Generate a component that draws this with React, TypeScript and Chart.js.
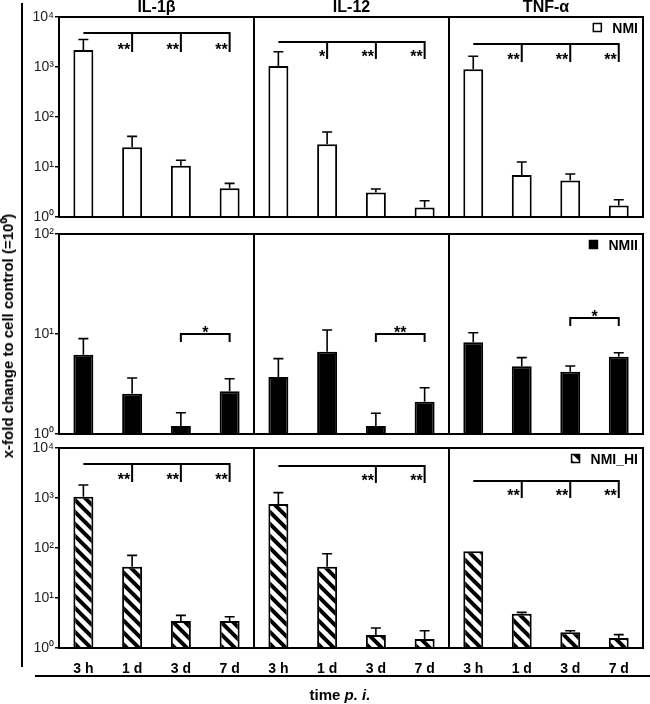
import React, { useEffect, useRef } from 'react';
import { Chart, registerables } from 'chart.js';

Chart.register(...registerables);

const FONT = "'Liberation Sans', Arial, Helvetica, sans-serif";

const TIME_POINTS = ['3 h', '1 d', '3 d', '7 d'];
const CYTOKINES = ['IL-1β', 'IL-12', 'TNF-α'];
const GROUPS = ['NMI', 'NMII', 'NMI_HI'];

// NMI (mean, SD)
const NMI_IL1B = [2190, 24.7, 10.6, 3.75];
const NMI_IL1B_SD = [1370, 16.3, 3.0, 0.95];
const NMI_IL12 = [1050, 28.4, 3.1, 1.54];
const NMI_IL12_SD = [975, 21.6, 0.53, 0.58];
const NMI_TNF = [898, 6.9, 5.4, 1.69];
const NMI_TNF_SD = [737, 5.7, 1.84, 0.53];
// NMII
const NMII_IL1B = [6.2, 2.53, 1.2, 2.67];
const NMII_IL1B_SD = [2.78, 1.1, 0.43, 0.9];
const NMII_IL12 = [3.72, 6.65, 1.2, 2.1];
const NMII_IL12_SD = [1.95, 4.31, 0.41, 0.8];
const NMII_TNF = [8.26, 4.75, 4.2, 5.93];
const NMII_TNF_SD = [2.04, 1.05, 0.59, 0.57];
// NMI_HI
const NMIHI_IL1B = [1063, 42.4, 3.47, 3.47];
const NMIHI_IL1B_SD = [757, 28.9, 1.03, 0.76];
const NMIHI_IL12 = [759, 42.4, 1.82, 1.51];
const NMIHI_IL12_SD = [519, 34.6, 0.69, 0.71];
const NMIHI_TNF = [85.8, 4.86, 2.06, 1.58];
const NMIHI_TNF_SD = [0, 0.31, 0.16, 0.27];

const TICKS_4DEC = [1, 10, 100, 1000, 10000];
const TICKS_2DEC = [1, 10, 100];
const SUPERSCRIPT = ['⁰', '¹', '²', '³', '⁴'];

// significance: fan = 3 h vs 1 d / 3 d / 7 d ; pair = 3 d vs 7 d
const SIG_NMI = [['**', '**', '**'], ['*', '**', '**'], ['**', '**', '**']];
const SIG_NMII = ['*', '**', '*'];
const SIG_NMIHI = [['**', '**', '**'], ['', '**', '**'], ['**', '**', '**']];

const VALUES = [
  [NMI_IL1B, NMI_IL12, NMI_TNF],
  [NMII_IL1B, NMII_IL12, NMII_TNF],
  [NMIHI_IL1B, NMIHI_IL12, NMIHI_TNF],
];
const ERRORS = [
  [NMI_IL1B_SD, NMI_IL12_SD, NMI_TNF_SD],
  [NMII_IL1B_SD, NMII_IL12_SD, NMII_TNF_SD],
  [NMIHI_IL1B_SD, NMIHI_IL12_SD, NMIHI_TNF_SD],
];

// layout (pixels)
const COL_EDGES = [59, 254, 449, 643];
const ROW_EDGES = [
  [17, 217],
  [234, 434],
  [448, 648],
];
const BRACKET_TOP = [
  [16, 25, 27],
  [100, 100, 84],
  [16, 18, 33],
];
const BRACKET_DROP = [
  [19, 17, 18],
  [8, 8, 8],
  [18, 17, 17],
];
const PAD = 10;
const Y_AXIS_W = 36;
const X_AXIS_H = 26;
const TITLE_H = 18;

function makeHatch(): CanvasPattern | string {
  const c = document.createElement('canvas');
  const n = 12;
  c.width = n;
  c.height = n;
  const g = c.getContext('2d');
  if (!g) return '#888';
  g.fillStyle = '#fff';
  g.fillRect(0, 0, n, n);
  g.strokeStyle = '#000';
  g.lineWidth = 4;
  g.beginPath();
  g.moveTo(-3, -3);
  g.lineTo(n + 3, n + 3);
  g.moveTo(-3, n - 3);
  g.lineTo(3, n + 3);
  g.moveTo(n - 3, -3);
  g.lineTo(n + 3, 3);
  g.stroke();
  return g.createPattern(c, 'repeat') || '#888';
}

function Panel({ row, col }: { row: number; col: number }) {
  const ref = useRef<HTMLCanvasElement>(null);
  const yW = col === 0 ? Y_AXIS_W : 0;
  const xH = row === 2 ? X_AXIS_H : 0;
  const tH = row === 0 ? TITLE_H : 0;
  const px0 = COL_EDGES[col];
  const px1 = COL_EDGES[col + 1];
  const py0 = ROW_EDGES[row][0];
  const py1 = ROW_EDGES[row][1];
  const left = px0 - yW - PAD;
  const top = py0 - tH - PAD;
  const width = px1 - px0 + yW + 2 * PAD;
  const height = py1 - py0 + tH + xH + 2 * PAD;

  useEffect(() => {
    const canvas = ref.current;
    if (!canvas) return;
    const values = VALUES[row][col];
    const errs = ERRORS[row][col];
    const hatch = makeHatch();
    const fill = row === 0 ? '#ffffff' : row === 1 ? '#000000' : hatch;
    const yTicks = row === 1 ? TICKS_2DEC : TICKS_4DEC;

    const decor = {
      id: 'decor',
      afterDatasetsDraw(chart: any) {
        const { ctx, chartArea: a, scales } = chart;
        const ys = scales.y;
        const xs = scales.x;
        const meta = chart.getDatasetMeta(0);
        ctx.save();
        // error bars
        ctx.strokeStyle = '#000';
        ctx.lineWidth = 1.6;
        meta.data.forEach((bar: any, i: number) => {
          const s = errs[i];
          if (!s) return;
          const yt = ys.getPixelForValue(values[i] + s);
          ctx.beginPath();
          ctx.moveTo(bar.x, bar.y);
          ctx.lineTo(bar.x, yt);
          ctx.moveTo(bar.x - 5, yt);
          ctx.lineTo(bar.x + 5, yt);
          ctx.stroke();
        });
        // frame
        ctx.lineWidth = 2;
        ctx.strokeRect(a.left, a.top, a.right - a.left, a.bottom - a.top);
        // significance brackets
        const yl = a.top + BRACKET_TOP[row][col];
        const drop = BRACKET_DROP[row][col];
        ctx.fillStyle = '#000';
        ctx.font = `bold 16px ${FONT}`;
        ctx.textBaseline = 'alphabetic';
        if (row === 1) {
          const x1 = xs.getPixelForValue(2);
          const x2 = xs.getPixelForValue(3);
          ctx.beginPath();
          ctx.moveTo(x1, yl + drop);
          ctx.lineTo(x1, yl);
          ctx.lineTo(x2, yl);
          ctx.lineTo(x2, yl + drop);
          ctx.stroke();
          ctx.textAlign = 'center';
          ctx.fillText(SIG_NMII[col], (x1 + x2) / 2, yl + 4);
        } else {
          const labels = row === 0 ? SIG_NMI[col] : SIG_NMIHI[col];
          ctx.beginPath();
          ctx.moveTo(xs.getPixelForValue(0), yl);
          ctx.lineTo(xs.getPixelForValue(3) + 1, yl);
          labels.forEach((lab: string, k: number) => {
            if (!lab) return;
            const xi = xs.getPixelForValue(k + 1);
            ctx.moveTo(xi, yl);
            ctx.lineTo(xi, yl + drop);
          });
          ctx.stroke();
          ctx.textAlign = 'right';
          labels.forEach((lab: string, k: number) => {
            if (!lab) return;
            const xi = xs.getPixelForValue(k + 1);
            ctx.fillText(lab, xi - 2, yl + drop + 3);
          });
        }
        // legend
        if (col === 2) {
          const text = chart.data.datasets[0].label;
          ctx.font = `bold 14px ${FONT}`;
          const tw = ctx.measureText(text).width;
          const tx = a.right - 5 - tw;
          const cy = a.top + 11;
          const bs = 8;
          const bx = tx - 11 - bs;
          const by = cy - bs / 2 - 0.5;
          ctx.fillStyle = chart.data.datasets[0].backgroundColor;
          ctx.fillRect(bx, by, bs, bs);
          ctx.lineWidth = 1.5;
          ctx.strokeStyle = '#000';
          ctx.strokeRect(bx, by, bs, bs);
          ctx.fillStyle = '#000';
          ctx.textAlign = 'left';
          ctx.textBaseline = 'middle';
          ctx.fillText(text, tx, cy + 1);
        }
        ctx.restore();
      },
    };

    const chart = new Chart(canvas, {
      type: 'bar',
      data: {
        labels: TIME_POINTS,
        datasets: [
          {
            label: GROUPS[row],
            data: values,
            backgroundColor: fill as any,
            borderColor: '#000',
            borderWidth: 2,
            borderSkipped: 'start',
            barPercentage: 0.41,
            categoryPercentage: 1,
          },
        ],
      },
      options: {
        responsive: false,
        animation: false,
        devicePixelRatio: 1,
        layout: { padding: PAD },
        font: { family: FONT },
        plugins: {
          legend: { display: false },
          tooltip: { enabled: false },
          title: {
            display: row === 0,
            text: CYTOKINES[col],
            fullSize: false,
            color: '#000',
            padding: 0,
            font: { family: FONT, size: 16, weight: 'bold', lineHeight: 1.125 },
          },
        },
        scales: {
          x: {
            type: 'category',
            display: row === 2,
            offset: true,
            grid: { display: false },
            border: { display: false },
            ticks: {
              color: '#000',
              padding: 5,
              maxRotation: 0,
              autoSkip: false,
              font: { family: FONT, size: 14, weight: 'bold' },
            },
            afterFit: (s: any) => {
              s.height = xH;
              s.paddingLeft = 0;
              s.paddingRight = 0;
            },
          },
          y: {
            type: 'logarithmic',
            display: col === 0,
            min: 1,
            max: yTicks[yTicks.length - 1],
            afterBuildTicks: (s: any) => {
              s.ticks = yTicks.map((v) => ({ value: v }));
            },
            afterFit: (s: any) => {
              s.width = yW;
              s.paddingTop = 0;
              s.paddingBottom = 0;
            },
            grid: {
              drawOnChartArea: false,
              drawTicks: true,
              tickLength: 4,
              color: '#000',
              lineWidth: 1.5,
            },
            border: { display: false },
            ticks: {
              autoSkip: false,
              padding: 1,
              color: '#222',
              font: { family: FONT, size: 14 },
              callback: (v: any) => {
                const e = Math.round(Math.log10(Number(v)));
                return '10' + SUPERSCRIPT[e];
              },
            },
          },
        },
      } as any,
      plugins: [decor as any],
    });
    return () => chart.destroy();
  }, [row, col]);

  return (
    <canvas
      ref={ref}
      width={width}
      height={height}
      style={{ position: 'absolute', left, top, width, height }}
    />
  );
}

export default function App() {
  const panels: { row: number; col: number }[] = [];
  for (let r = 0; r < 3; r++) for (let c = 0; c < 3; c++) panels.push({ row: r, col: c });
  return (
    <div
      style={{
        position: 'absolute',
        left: 0,
        top: 0,
        width: 650,
        height: 704,
        background: '#fff',
        overflow: 'hidden',
        fontFamily: FONT,
      }}
    >
      {panels.map((p) => (
        <Panel key={`${p.row}-${p.col}`} row={p.row} col={p.col} />
      ))}
      <div style={{ position: 'absolute', left: 21, top: 3, width: 2, height: 664, background: '#000' }} />
      <div style={{ position: 'absolute', left: 35, top: 675, width: 615, height: 2, background: '#000' }} />
      <div
        style={{
          position: 'absolute',
          left: 8,
          top: 336,
          transform: 'translate(-50%, -50%) rotate(-90deg)',
          whiteSpace: 'nowrap',
          fontWeight: 'bold',
          fontSize: 15,
          lineHeight: '16px',
          color: '#000',
        }}
      >
        x-fold change to cell control (=10⁰)
      </div>
      <div
        style={{
          position: 'absolute',
          left: 340,
          top: 695,
          transform: 'translate(-50%, -50%)',
          whiteSpace: 'nowrap',
          fontWeight: 'bold',
          fontSize: 15,
          lineHeight: '16px',
          color: '#000',
        }}
      >
        time <i>p. i.</i>
      </div>
    </div>
  );
}
